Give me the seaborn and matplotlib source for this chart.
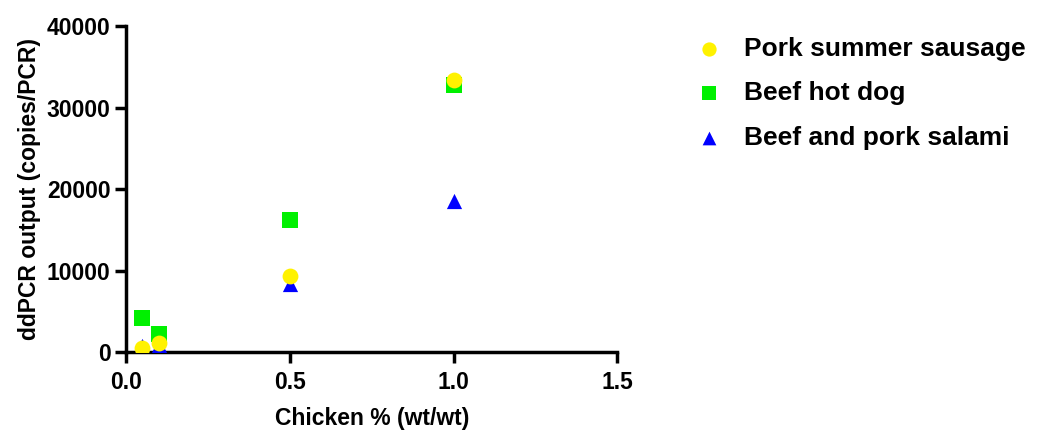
import matplotlib
matplotlib.use("Agg")
import matplotlib.pyplot as plt
import seaborn as sns
import pandas as pd

chicken_pct = [0.05, 0.1, 0.5, 1.0]
pork_summer_sausage = [500, 1200, 9400, 33400]
beef_hot_dog = [4200, 2300, 16200, 32800]
beef_pork_salami = [800, 900, 8400, 18600]

series_names = ["Pork summer sausage", "Beef hot dog", "Beef and pork salami"]
series_vals = [pork_summer_sausage, beef_hot_dog, beef_pork_salami]
colors = {"Pork summer sausage": "#FFF200", "Beef hot dog": "#00F000", "Beef and pork salami": "#0000FF"}
markers = {"Pork summer sausage": "o", "Beef hot dog": "s", "Beef and pork salami": "^"}

x_ticks = [0, 0.5, 1.0, 1.5]
x_tick_labels = ["0.0", "0.5", "1.0", "1.5"]
y_ticks = [0, 10000, 20000, 30000, 40000]
y_tick_labels = ["0", "10000", "20000", "30000", "40000"]

rows = []
for name, vals in zip(series_names, series_vals):
    for x, y in zip(chicken_pct, vals):
        rows.append({"x": x, "y": y, "series": name})
df = pd.DataFrame(rows)

sns.set_style("ticks")
plt.rcParams['font.family'] = ['Liberation Sans', 'DejaVu Sans']
plt.rcParams['font.weight'] = 'bold'
plt.rcParams['text.color'] = 'black'
plt.rcParams['axes.labelcolor'] = 'black'
plt.rcParams['xtick.color'] = 'black'
plt.rcParams['ytick.color'] = 'black'
plt.rcParams['axes.edgecolor'] = 'black'

fig = plt.figure(figsize=(10.5, 4.33), dpi=100)
ax = fig.add_axes([0.12, 0.186, 0.468, 0.754])

draw_order = ["Beef hot dog", "Beef and pork salami", "Pork summer sausage"]
for name in draw_order:
    sub = df[df.series == name]
    sns.scatterplot(data=sub, x="x", y="y", color=colors[name], marker=markers[name],
                    s=130 if name != "Beef and pork salami" else 120, linewidth=0, ax=ax,
                    label=name, zorder=3)

ax.set_xlim(0, 1.5)
ax.set_ylim(0, 40000)
ax.set_xticks(x_ticks)
ax.set_xticklabels(x_tick_labels, fontsize=16.5, fontweight='bold', color='black')
ax.set_yticks(y_ticks)
ax.set_yticklabels(y_tick_labels, fontsize=16.5, fontweight='bold', color='black')
ax.set_xlabel("Chicken % (wt/wt)", fontsize=16.5, fontweight='bold', labelpad=10, color='black')
ax.set_ylabel("ddPCR output (copies/PCR)", fontsize=16.5, fontweight='bold', labelpad=4, color='black')
for sp in ["left", "bottom"]:
    ax.spines[sp].set_linewidth(2.5)
    ax.spines[sp].set_color('black')
    ax.spines[sp].set_clip_on(False)
ax.spines["top"].set_visible(False)
ax.spines["right"].set_visible(False)
ax.tick_params(axis='both', width=2.5, length=8, color='black')
ax.tick_params(axis='x', pad=5)
ax.tick_params(axis='y', pad=3)

handles, labels = ax.get_legend_handles_labels()
hmap = dict(zip(labels, handles))
leg = ax.legend([hmap[n] for n in series_names], series_names, loc='upper left',
          bbox_to_anchor=(1.085, 1.04), frameon=False, prop={'size': 19, 'weight': 'bold'},
          handletextpad=0.33, labelspacing=0.78, markerscale=0.9)
for t in leg.get_texts():
    t.set_color('black')

fig.savefig("out.png", dpi=100)
